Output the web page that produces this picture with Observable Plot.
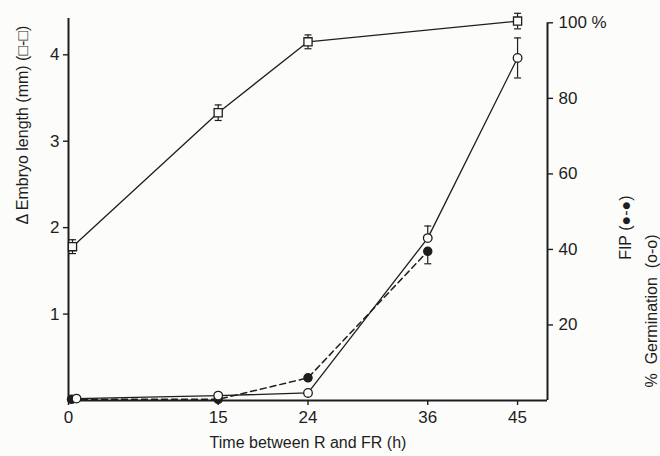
<!DOCTYPE html>
<html>
<head>
<meta charset="utf-8">
<script src="https://cdn.jsdelivr.net/npm/d3@7"></script>
<script src="https://cdn.jsdelivr.net/npm/@observablehq/plot@0.6"></script>
<style>
  html, body { margin: 0; padding: 0; background: #fcfcfa; }
  #chart { width: 660px; height: 456px; }
</style>
</head>
<body>
<div id="chart"></div>
<script>
// ---- data ----
// x ticks (hours between R and FR)
const xTicks = [0, 15, 24, 36, 45];
// Δ Embryo length (mm), open squares, left axis
const embryoTime = [0.4, 15, 24, 45];
const embryoMm = [1.78, 3.33, 4.15, 4.39];
const embryoErr = [0.08, 0.09, 0.08, 0.09];
// % Germination, open circles, solid line, right axis
const germTime = [0.8, 15, 24, 36, 45];
const germPct = [0.5, 1.3, 2.0, 43, 90.7];
const germErrUp = [0, 0, 0, 3.2, 5.3];
const germErrDown = [0, 0, 0, 0, 5.3];
// FIP, filled circles, dashed line, right axis
const fipTime = [0.3, 15, 24, 36];
const fipPct = [0.3, 0.3, 6.0, 39.5];
const fipErrDown = [0, 0, 0, 3.3];
// axis ticks
const leftTicks = [1, 2, 3, 4];
const rightTicks = [20, 40, 60, 80, 100];

// right axis (%) expressed in left-axis units (mm): 100 % sits at 4.37 mm
const pctToMm = 4.37 / 100;

const ink = "#1e1e1e";
const paper = "#fcfcfa";
const font = "Liberation Sans, Arial, sans-serif";

const embryo = embryoTime.map((t, i) => ({t, v: embryoMm[i], lo: embryoMm[i] - embryoErr[i], hi: embryoMm[i] + embryoErr[i]}));
const germ = germTime.map((t, i) => ({t, v: germPct[i] * pctToMm, lo: (germPct[i] - germErrDown[i]) * pctToMm, hi: (germPct[i] + germErrUp[i]) * pctToMm, hasUp: germErrUp[i] > 0, hasDown: germErrDown[i] > 0}));
const fip = fipTime.map((t, i) => ({t, v: fipPct[i] * pctToMm, lo: (fipPct[i] - fipErrDown[i]) * pctToMm, hasDown: fipErrDown[i] > 0}));

// horizontal cap symbol for error bars
const cap = {draw(ctx, size) { const w = Math.sqrt(size / Math.PI); ctx.moveTo(-w, 0); ctx.lineTo(w, 0); }};

const germUp = germ.filter(d => d.hasUp);
const germDown = germ.filter(d => d.hasDown);
const fipDown = fip.filter(d => d.hasDown);

const axisStyle = {tickSize: 5, label: null, stroke: ink, strokeWidth: 1.4, fill: ink, fontSize: 17};

const chart = Plot.plot({
  width: 660,
  height: 456,
  marginLeft: 68,
  marginRight: 113,
  marginTop: 18,
  marginBottom: 56,
  x: {domain: [0, 48]},
  y: {domain: [0, 4.42]},
  style: {fontFamily: font, fontSize: "16px", color: ink, background: paper},
  marks: [
    // axes
    Plot.axisX({...axisStyle, ticks: xTicks, tickPadding: 5, tickFormat: "d"}),
    Plot.axisY({...axisStyle, ticks: leftTicks, tickPadding: 4, tickFormat: "d"}),
    Plot.axisY({...axisStyle, anchor: "right", ticks: rightTicks.map(p => p * pctToMm), tickPadding: 6,
      tickFormat: v => { const p = Math.round(v / pctToMm); return p === 100 ? "100 %" : String(p); }}),
    Plot.ruleX([0], {stroke: ink, strokeWidth: 2}),
    Plot.ruleX([48], {y1: 0, y2: 100 * pctToMm, stroke: ink, strokeWidth: 2}),
    Plot.ruleY([0], {stroke: ink, strokeWidth: 2}),

    // lines
    Plot.line(embryo, {x: "t", y: "v", stroke: ink, strokeWidth: 1.3}),
    Plot.line(germ, {x: "t", y: "v", stroke: ink, strokeWidth: 1.3}),
    Plot.line(fip, {x: "t", y: "v", stroke: ink, strokeWidth: 1.5, strokeDasharray: "6,4"}),

    // error bars
    Plot.ruleX(embryo, {x: "t", y1: "lo", y2: "hi", stroke: ink, strokeWidth: 1.2}),
    Plot.dot(embryo, {x: "t", y: "lo", symbol: cap, r: 3.5, stroke: ink, strokeWidth: 1.2}),
    Plot.dot(embryo, {x: "t", y: "hi", symbol: cap, r: 3.5, stroke: ink, strokeWidth: 1.2}),
    Plot.ruleX(germUp, {x: "t", y1: "v", y2: "hi", stroke: ink, strokeWidth: 1.2}),
    Plot.dot(germUp, {x: "t", y: "hi", symbol: cap, r: 3.5, stroke: ink, strokeWidth: 1.2}),
    Plot.ruleX(germDown, {x: "t", y1: "lo", y2: "v", stroke: ink, strokeWidth: 1.2}),
    Plot.dot(germDown, {x: "t", y: "lo", symbol: cap, r: 3.5, stroke: ink, strokeWidth: 1.2}),
    Plot.ruleX(fipDown, {x: "t", y1: "lo", y2: "v", stroke: ink, strokeWidth: 1.2}),
    Plot.dot(fipDown, {x: "t", y: "lo", symbol: cap, r: 3.5, stroke: ink, strokeWidth: 1.2}),

    // points
    Plot.dot(fip, {x: "t", y: "v", r: 4, fill: ink, stroke: ink}),
    Plot.dot(germ, {x: "t", y: "v", r: 4.3, fill: paper, stroke: ink, strokeWidth: 1.3}),
    Plot.dot(embryo, {x: "t", y: "v", symbol: "square", r: 4.6, fill: paper, stroke: ink, strokeWidth: 1.3}),

    // titles
    Plot.text(["Time between R and FR (h)"], {frameAnchor: "bottom", dy: 42, lineAnchor: "middle", fill: ink, fontSize: 16}),
    Plot.text(["\u0394 Embryo length (mm) (\u25a1-\u25a1)"], {frameAnchor: "left", rotate: -90, dx: -46, dy: 15, lineAnchor: "middle", fill: ink, fontSize: 16}),
    Plot.text(["FIP (\u25cf-\u25cf)"], {frameAnchor: "right", rotate: -90, dx: 78, dy: -14, lineAnchor: "middle", fill: ink, fontSize: 16}),
    Plot.text(["%  Germination  (o-o)"], {frameAnchor: "right", rotate: -90, dx: 104, dy: 25, lineAnchor: "middle", fill: ink, fontSize: 16})
  ]
});
document.getElementById("chart").append(chart);
</script>
</body>
</html>
